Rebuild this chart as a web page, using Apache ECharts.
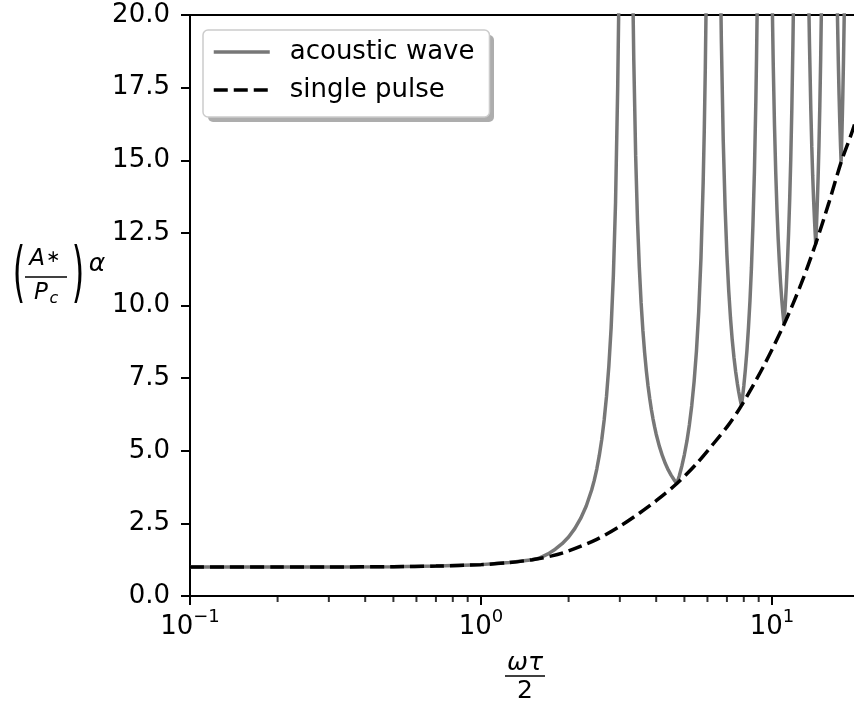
<!DOCTYPE html>
<html><head><meta charset="utf-8">
<script src="https://cdn.jsdelivr.net/npm/echarts@6/dist/echarts.min.js"></script>
<style>html,body{margin:0;padding:0;width:854px;height:705px;overflow:hidden;background:#fff}#c{width:870px;height:705px}</style>
</head><body><div id="c"></div>
<script>
// x = omega*tau/2, y = (A*/Pc)^alpha
const pulseX = [0.1,0.2,0.3,0.5,0.7,1.0,1.25,1.5,1.75,2.0,2.5,3.0,3.5,4.0,4.71,5.5,6.3,7.1,7.85,9.4,11.0,12.6,14.1,15.7,17.3,19.1,20];
const pulseY = [1.00,1.00,1.00,1.01,1.03,1.08,1.15,1.25,1.38,1.55,1.95,2.40,2.85,3.28,3.87,4.55,5.25,5.90,6.55,7.95,9.35,10.75,12.1,13.55,14.95,16.15,16.95];

const acousticX = [0.1,0.2,0.3,0.5,0.7,1.0,1.25,1.5,1.571,
  1.6,1.7,1.8,1.9,2.0,2.1,2.2,2.3,2.4,2.45,2.5,2.55,2.6,2.65,2.7,2.75,2.8,2.85,2.9,2.95,2.98,3.05,3.1416,3.25,3.3,3.33,3.35,3.4,3.45,3.5,3.55,3.6,3.65,3.7,3.75,3.8,3.85,3.9,3.95,4.0,4.1,4.2,4.3,4.4,4.5,4.63,4.712,
  4.8,4.9,5.0,5.1,5.2,5.3,5.4,5.5,5.6,5.7,5.8,5.85,5.9,5.95,6.1,6.2832,6.5,6.6,6.65,6.7,6.8,6.9,7.0,7.1,7.2,7.3,7.4,7.5,7.6,7.68,7.75,7.8,7.854,
  7.92,8.0,8.1,8.2,8.3,8.4,8.5,8.6,8.7,8.8,8.85,8.9,9.1,9.4248,9.75,9.9,10.0,10.05,10.1,10.2,10.3,10.4,10.5,10.6,10.7,10.8,10.9,10.996,
  11.1,11.2,11.3,11.4,11.5,11.6,11.7,11.8,11.85,12.0,12.566,13.2,13.35,13.4,13.45,13.6,13.7,13.8,13.9,14.0,14.07,14.137,
  14.2,14.3,14.4,14.5,14.6,14.7,14.8,15.0,15.708,16.5,16.7,16.8,16.9,17.0,17.1,17.2,17.279,
  17.4,17.5,17.6,17.7,17.8,18.85,19.5,20];
const acousticY = [1.00,1.00,1.00,1.01,1.03,1.08,1.15,1.25,1.29,
  1.32,1.45,1.61,1.80,2.03,2.32,2.67,3.10,3.65,3.98,4.37,4.84,5.39,6.06,6.88,7.91,9.23,11.03,13.56,17.55,20.87,37.8,300,34.3,23.9,20.28,18.46,15.15,12.91,11.31,10.09,9.14,8.38,7.75,7.23,6.80,6.42,6.10,5.82,5.57,5.16,4.83,4.56,4.34,4.16,3.97,3.87,
  4.13,4.47,4.87,5.33,5.89,6.56,7.39,8.43,9.79,11.62,14.22,15.98,18.19,21.08,39.2,300,35.4,24.63,21.46,19.05,15.65,13.37,11.73,10.51,9.57,8.82,8.22,7.73,7.32,7.04,6.83,6.69,6.55,
  6.84,7.23,7.79,8.44,9.23,10.16,11.31,12.78,14.59,17.04,18.59,20.44,33.6,300,36.1,25.2,21.13,19.59,18.27,16.19,14.58,13.32,12.30,11.49,10.79,10.22,9.74,9.35,
  9.97,10.67,11.49,12.46,13.62,15.03,16.78,19.0,20.36,25.9,300,25.6,21.15,20.03,19.04,16.69,15.46,14.46,13.63,12.93,12.50,12.1,
  12.59,13.42,14.38,15.51,16.87,18.51,20.53,26.4,300,26.1,21.43,19.75,18.39,17.25,16.3,15.48,14.95,
  16.02,17.09,18.34,19.84,21.63,300,36.9,22.2];

const minorTickX = [0.2,0.3,0.4,0.5,0.6,0.7,0.8,0.9,2,3,4,5,6,7,8,9];
const seriesNames = ['acoustic wave','single pulse'];
const yMin = 0, yMax = 20, yStep = 2.5;
const xMin = 0.1, xMax = 20;

const zip = (a,b) => a.map((v,i)=>[v,b[i]]);
const FONT = 'DejaVu Sans';
const T = (x, y, text, size, italic, extra) => Object.assign({type:'text', x:x, y:y, style:{text:text, fontSize:size, fontStyle: italic?'italic':'normal', fontFamily:FONT, fill:'#000', align:'center', verticalAlign:'middle', textAlign:'center', textVerticalAlign:'middle'}}, extra||{});
const chart = echarts.init(document.getElementById('c'), null, {renderer:'canvas'});
chart.setOption({
  animation: false,
  backgroundColor: '#fff',
  grid: {left:190, top:15, width:669.6, height:581, show:true, borderColor:'#000', borderWidth:2, backgroundColor:'transparent', outerBoundsMode:'none', containLabel:false},
  xAxis: {
    type:'log', logBase:10, min:xMin, max:xMax,
    axisLine:{show:true, lineStyle:{color:'#000', width:2}},
    axisTick:{show:true, length:9, lineStyle:{color:'#000', width:2}},
    splitLine:{show:false}, minorTick:{show:false}, minorSplitLine:{show:false},
    axisLabel:{
      margin:12, color:'#000',
      formatter: v => { const e = Math.log10(v); const r = Math.round(e); if (Math.abs(e-r) > 1e-6) return ''; return '{b|10}{s|' + (r<0?'\u2212':'') + Math.abs(r) + '}'; },
      rich:{
        b:{fontSize:26, fontFamily:FONT, color:'#000', verticalAlign:'bottom', lineHeight:32},
        s:{fontSize:18, fontFamily:FONT, color:'#000', verticalAlign:'top', lineHeight:18}
      }
    }
  },
  yAxis: {
    type:'value', min:yMin, max:yMax, interval:yStep,
    axisLine:{show:true, lineStyle:{color:'#000', width:2}},
    axisTick:{show:true, length:9, lineStyle:{color:'#000', width:2}},
    splitLine:{show:false},
    axisLabel:{margin:20, color:'#000', fontSize:26, fontFamily:FONT, formatter: v => v.toFixed(1)}
  },
  legend: {
    data: seriesNames, orient:'vertical', left:203, top:30,
    itemWidth:56, itemHeight:14, itemGap:12, padding:[9,15,14,9],
    backgroundColor:'#fff', borderColor:'#cccccc', borderWidth:1.5, borderRadius:5,
    textStyle:{fontSize:26, fontFamily:FONT, color:'#000', padding:[0,0,0,15]},
    lineStyle:{width:3.5},
    itemStyle:{opacity:0}, selectedMode:false
  },
  series: [
    {name:seriesNames[0], type:'line', data:zip(acousticX, acousticY), showSymbol:false, symbol:'none', clip:true,
     lineStyle:{color:'#777777', width:3.5}, itemStyle:{color:'#777777'}, z:3, silent:true},
    {name:seriesNames[1], type:'line', data:zip(pulseX, pulseY), showSymbol:false, symbol:'none', clip:true, smooth:0.3,
     lineStyle:{color:'#000', width:3.5, type:[14,6]}, itemStyle:{color:'#000'}, z:4, silent:true},
    {name:'minor', type:'scatter', data:minorTickX.map(v=>[v,yMin]), symbol:'rect', symbolSize:[2,5], symbolOffset:[0,3.5],
     itemStyle:{color:'#000'}, clip:false, silent:true, z:6}
  ],
  graphic: [
    {type:'rect', z:1, silent:true, shape:{x:208, y:35, width:286, height:87, r:5}, style:{fill:'rgba(0,0,0,0.32)'}},
    T(19, 277, '(', 32, false, {scaleY:2.05}),
    T(37, 259, 'A', 23, true),
    T(53, 258, '\u2217', 17, false),
    {type:'line', shape:{x1:25, y1:277, x2:67, y2:277}, style:{stroke:'#000', lineWidth:1.5}},
    T(41, 293, 'P', 23, true),
    T(54, 299, 'c', 16, true),
    T(78, 277, ')', 32, false, {scaleY:2.05}),
    T(97, 264, '\u03b1', 25, true),
    T(525, 663, '\u03c9\u03c4', 25, true),
    {type:'line', shape:{x1:505, y1:676, x2:545, y2:676}, style:{stroke:'#000', lineWidth:1.5}},
    T(525, 691, '2', 25, false)
  ]
});
</script></body></html>
